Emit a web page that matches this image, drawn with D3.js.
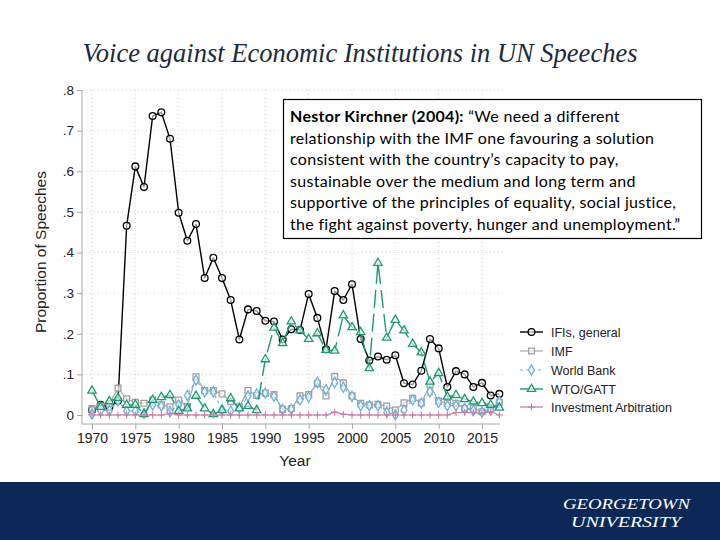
<!DOCTYPE html>
<html><head><meta charset="utf-8">
<script src="https://cdn.jsdelivr.net/npm/d3@7/dist/d3.min.js"></script>
<style>html,body{margin:0;padding:0;background:#fff;} svg{display:block;}</style>
</head><body>
<script>
const years = [1970,1971,1972,1973,1974,1975,1976,1977,1978,1979,1980,1981,1982,1983,1984,1985,1986,1987,1988,1989,1990,1991,1992,1993,1994,1995,1996,1997,1998,1999,2000,2001,2002,2003,2004,2005,2006,2007,2008,2009,2010,2011,2012,2013,2014,2015,2016,2017];
const ifis = [0.012,0.025,0.02,0.035,0.466,0.612,0.561,0.736,0.745,0.68,0.498,0.429,0.47,0.337,0.387,0.337,0.283,0.186,0.26,0.256,0.232,0.23,0.186,0.211,0.209,0.298,0.239,0.162,0.305,0.283,0.322,0.187,0.134,0.144,0.136,0.147,0.078,0.075,0.109,0.187,0.164,0.069,0.108,0.1,0.069,0.079,0.048,0.052];
const imf = [0.016,0.022,0.028,0.066,0.04,0.031,0.029,0.037,0.025,0.02,0.037,0.021,0.094,0.06,0.06,0.052,0.033,0.02,0.06,0.048,0.054,0.05,0.014,0.016,0.047,0.05,0.078,0.047,0.095,0.079,0.047,0.029,0.025,0.026,0.022,0.012,0.03,0.041,0.03,0.074,0.034,0.029,0.029,0.016,0.016,0.008,0.016,0.031];
const worldBank = [0.002,0.011,0.011,0.035,0.01,0.01,0.004,0.025,0.022,0.008,0.025,0.048,0.086,0.057,0.057,0.013,0.01,0.017,0.047,0.052,0.054,0.046,0.014,0.014,0.037,0.044,0.08,0.062,0.08,0.068,0.046,0.023,0.023,0.023,0.007,0.0,0.012,0.037,0.029,0.057,0.031,0.023,0.023,0.016,0.011,0.007,0.012,0.033];
const wto = [0.06,0.02,0.034,0.042,0.025,0.025,0.002,0.037,0.044,0.049,0.01,0.016,0.047,0.016,0.002,0.012,0.041,0.016,0.022,0.012,0.137,0.215,0.177,0.23,0.208,0.187,0.201,0.16,0.158,0.245,0.216,0.204,0.115,0.374,0.19,0.234,0.208,0.175,0.154,0.082,0.103,0.045,0.049,0.039,0.033,0.029,0.025,0.018];
const arbitration = [0,0,0,0,0,0,0,0,0,0.004,0,0,0,0,0,0,0,0,0,0,0,0,0,0,0,0,0,0,0.007,0.002,0,0,0,0,0,0,0,0,0,0,0,0,0.006,0.006,0.006,0.004,0.008,0];
const seriesNames = ["IFIs, general","IMF","World Bank","WTO/GATT","Investment Arbitration"];
const xTicks = [1970,1975,1980,1985,1990,1995,2000,2005,2010,2015];
const yTicks = [0,0.1,0.2,0.3,0.4,0.5,0.6,0.7,0.8];
const yTickLabels = ["0",".1",".2",".3",".4",".5",".6",".7",".8"];
const titleText = "Voice against Economic Institutions in UN Speeches";
const quoteBold = "Nestor Kirchner (2004):";
const quoteLines = [
  " \u201CWe need a different",
  "relationship with the IMF one favouring a solution",
  "consistent with the country\u2019s capacity to pay,",
  "sustainable over the medium and long term and",
  "supportive of the principles of equality, social justice,",
  "the fight against poverty, hunger and unemployment.\u201D"
];

const W = 720, H = 540;
const svg = d3.select("body").append("svg").attr("width", W).attr("height", H);
svg.append("rect").attr("width", W).attr("height", H).attr("fill", "#fff");

function fit(sel, target) {
  const fs = parseFloat(sel.attr("font-size"));
  const w = sel.node().getComputedTextLength();
  sel.attr("font-size", (fs * target / w).toFixed(2));
}

// Title
const title = svg.append("text").attr("x", 360).attr("y", 62).attr("text-anchor", "middle")
  .attr("font-family", "Liberation Serif, serif").attr("font-style", "italic")
  .attr("font-size", 26).attr("fill", "#1c2b3a").text(titleText);
fit(title, 555);

const x = d3.scaleLinear().domain([1970, 2015]).range([92, 482]);
const y = d3.scaleLinear().domain([0, 0.8]).range([415, 90]);

// grid
const grid = svg.append("g");
grid.selectAll("line.h").data(yTicks).join("line")
  .attr("x1", 82).attr("x2", 506).attr("y1", d => y(d)).attr("y2", d => y(d))
  .attr("stroke", "#d4d4d4").attr("stroke-width", 1).attr("stroke-dasharray", "1,3");
grid.selectAll("line.v").data(xTicks).join("line")
  .attr("x1", d => x(d)).attr("x2", d => x(d)).attr("y1", 90).attr("y2", 424)
  .attr("stroke", "#d4d4d4").attr("stroke-width", 1).attr("stroke-dasharray", "1,3");

// axes
const axisColor = "#a8a8a8";
const yAxis = svg.append("g").attr("transform", "translate(82,0)")
  .call(d3.axisLeft(y).tickValues(yTicks).tickFormat((d, i) => yTickLabels[i]).tickSize(5).tickPadding(3));
yAxis.select(".domain").attr("stroke", axisColor).attr("d", `M0,${y(0.8)}V424`);
yAxis.selectAll(".tick line").attr("stroke", axisColor);
yAxis.selectAll(".tick text").attr("font-family", "Liberation Sans, Arial, sans-serif").attr("font-size", 13.5).attr("fill", "#222");

const xAxis = svg.append("g").attr("transform", "translate(0,424)")
  .call(d3.axisBottom(x).tickValues(xTicks).tickFormat(d3.format("d")).tickSize(5).tickPadding(4));
xAxis.select(".domain").attr("stroke", axisColor).attr("d", "M82,0H500");
xAxis.selectAll(".tick line").attr("stroke", axisColor);
xAxis.selectAll(".tick text").attr("font-family", "Liberation Sans, Arial, sans-serif").attr("font-size", 14).attr("fill", "#222");

svg.append("text").attr("x", 295).attr("y", 466).attr("text-anchor", "middle")
  .attr("font-family", "Liberation Sans, Arial, sans-serif").attr("font-size", 15.5).attr("fill", "#222").text("Year");
svg.append("text").attr("transform", "translate(46,252) rotate(-90)").attr("text-anchor", "middle")
  .attr("font-family", "Liberation Sans, Arial, sans-serif").attr("font-size", 15.5).attr("fill", "#222").text("Proportion of Speeches");

// series
const series = [
  {name: seriesNames[0], vals: ifis, color: "#000000", width: 1.4, dash: null, marker: "circle"},
  {name: seriesNames[1], vals: imf, color: "#a0a0a0", width: 1.1, dash: null, marker: "square"},
  {name: seriesNames[2], vals: worldBank, color: "#6cb3dc", width: 1.2, dash: "3,3", marker: "diamond"},
  {name: seriesNames[3], vals: wto, color: "#1a9a75", width: 1.4, dash: "18,6", marker: "triangle"},
  {name: seriesNames[4], vals: arbitration, color: "#cc79a7", width: 1.2, dash: null, marker: "plus"}
];
const symbolType = {circle: d3.symbolCircle, square: d3.symbolSquare, diamond: d3.symbolDiamond, triangle: d3.symbolTriangle, plus: d3.symbolCross};
const symbolSize = {circle: 36, square: 34, diamond: 30, triangle: 30, plus: 30};

const line = d3.line().x(d => x(d[0])).y(d => y(d[1]));
function drawMarker(g, s, cx, cy) {
  if (s.marker === "plus") {
    g.append("path").attr("d", `M${cx-3.5},${cy}H${cx+3.5}M${cx},${cy-3.5}V${cy+3.5}`)
      .attr("stroke", s.color).attr("stroke-width", 1.1).attr("fill", "none");
  } else {
    g.append("path").attr("d", d3.symbol().type(symbolType[s.marker]).size(symbolSize[s.marker])())
      .attr("transform", `translate(${cx},${cy})`)
      .attr("fill", "#fff").attr("fill-opacity", 0.6).attr("stroke", s.color).attr("stroke-width", 1.3);
  }
}
series.forEach(s => {
  const pts = years.map((yr, i) => [yr, s.vals[i]]);
  const g = svg.append("g");
  g.append("path").attr("d", line(pts)).attr("fill", "none").attr("stroke", s.color)
    .attr("stroke-width", s.width).attr("stroke-dasharray", s.dash).attr("stroke-linejoin", "round");
  pts.forEach(p => drawMarker(g, s, x(p[0]), y(p[1])));
});

// legend
const legRows = [332, 351, 370, 389, 407];
series.forEach((s, i) => {
  const g = svg.append("g");
  const ly = legRows[i];
  g.append("line").attr("x1", 520).attr("x2", 543).attr("y1", ly).attr("y2", ly)
    .attr("stroke", s.color).attr("stroke-width", s.width).attr("stroke-dasharray", s.dash ? (s.marker === "triangle" ? "23,0" : "3,3") : null);
  drawMarker(g, s, 531.5, ly);
  g.append("text").attr("x", 551).attr("y", ly + 4.5).attr("font-family", "Liberation Sans, Arial, sans-serif")
    .attr("font-size", 12.5).attr("fill", "#222").text(s.name);
});

// quote box
svg.append("rect").attr("x", 283.5).attr("y", 99.5).attr("width", 418).attr("height", 139)
  .attr("fill", "#fff").attr("stroke", "#000").attr("stroke-width", 1.2);
const qt = svg.append("text").attr("font-family", "Lato, 'Open Sans', sans-serif").attr("font-size", 16)
  .attr("letter-spacing", 0.3).attr("fill", "#000");
quoteLines.forEach((ln, i) => {
  const t = qt.append("tspan").attr("x", 290).attr("y", 122 + i * 21.6);
  if (i === 0) {
    t.append("tspan").attr("font-weight", "bold").text(quoteBold);
    t.append("tspan").text(ln);
  } else t.text(ln);
});

// footer
svg.append("rect").attr("x", 0).attr("y", 482).attr("width", W).attr("height", 58).attr("fill", "#0b2856");
svg.append("text").attr("x", 563).attr("y", 509)
  .attr("font-family", "Liberation Serif, serif").attr("font-style", "italic").attr("font-size", 15)
  .attr("textLength", 127).attr("lengthAdjust", "spacingAndGlyphs")
  .attr("fill", "#fff").text("GEORGETOWN");
svg.append("text").attr("x", 571).attr("y", 527)
  .attr("font-family", "Liberation Serif, serif").attr("font-style", "italic").attr("font-size", 15)
  .attr("textLength", 110).attr("lengthAdjust", "spacingAndGlyphs")
  .attr("fill", "#fff").text("UNIVERSITY");
</script>
</body></html>
